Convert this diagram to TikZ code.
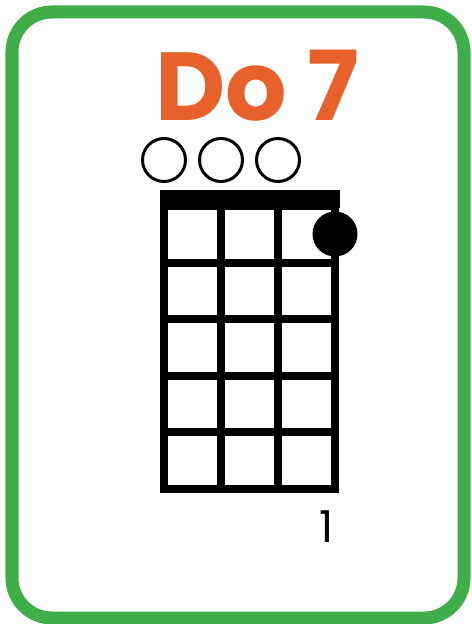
\documentclass[tikz,border=0pt]{standalone}
\usepackage{fontspec}
\setmainfont{Poppins}
\usetikzlibrary{positioning}
\definecolor{cardgreen}{HTML}{3FAE49}
\definecolor{chordorange}{HTML}{E8612C}

\begin{document}
\begin{tikzpicture}[x=0.02cm, y=-0.02cm,
  open/.style={draw, circle, line width=1.7pt, minimum size=0.86cm, inner sep=0pt},
  finger/.style={fill, circle, minimum size=0.9cm, inner sep=0pt}]
\useasboundingbox (0,0) rectangle (471,624);
\draw[cardgreen, line width=7.4pt, rounded corners=0.8cm] (12,12) rectangle (464,618);
\node[chordorange, font=\fontsize{55}{55}\selectfont\bfseries] (title) at (257,86) {Do 7};
% open strings
\node[open] (o1) at (164,160) {};
\node[open] (o2) at (221,160) {};
\node[open] (o3) at (278,160) {};
% nut and grid
\fill (160,190) rectangle (340,208);
\draw[line width=4.5pt] (164,206) rectangle (335,489);
\foreach \x in {221,278}
  \draw[line width=4.5pt] (\x,206) -- (\x,489);
\foreach \i in {1,...,4}
  \draw[line width=4.5pt] (164,206+56.6*\i) -- (335,206+56.6*\i);
\node[finger] (d) at (335,234) {};
\node[font=\fontsize{25}{25}\selectfont] (f) at (327,527) {1};
\end{tikzpicture}
\end{document}
